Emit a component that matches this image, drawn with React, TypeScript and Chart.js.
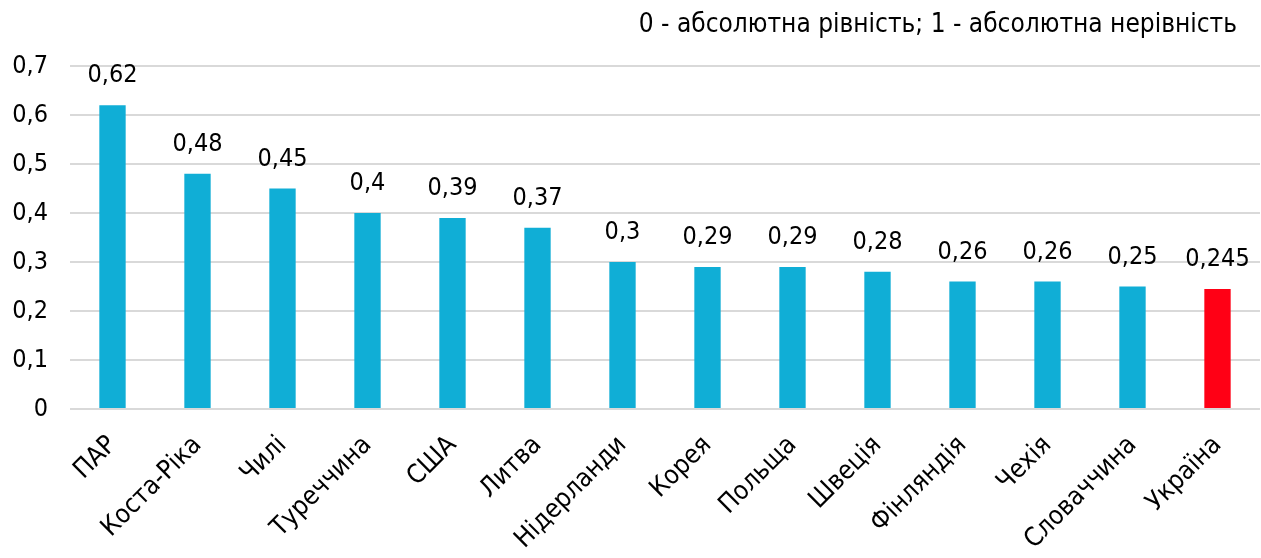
import React, { useEffect, useRef } from "react";
import { Chart, registerables } from "chart.js";

Chart.register(...registerables);

const categories = [
  "ПАР",
  "Коста-Ріка",
  "Чилі",
  "Туреччина",
  "США",
  "Литва",
  "Нідерланди",
  "Корея",
  "Польща",
  "Швеція",
  "Фінляндія",
  "Чехія",
  "Словаччина",
  "Україна",
];
const giniValues = [0.62, 0.48, 0.45, 0.4, 0.39, 0.37, 0.3, 0.29, 0.29, 0.28, 0.26, 0.26, 0.25, 0.245];
const valueLabels = ["0,62", "0,48", "0,45", "0,4", "0,39", "0,37", "0,3", "0,29", "0,29", "0,28", "0,26", "0,26", "0,25", "0,245"];
const barColors = [
  "#10AED6", "#10AED6", "#10AED6", "#10AED6", "#10AED6", "#10AED6", "#10AED6",
  "#10AED6", "#10AED6", "#10AED6", "#10AED6", "#10AED6", "#10AED6", "#FF0015",
];
const noteText = "0 - абсолютна рівність; 1 - абсолютна нерівність";

const FONT = "'DejaVu Sans Condensed', 'DejaVu Sans', sans-serif";

const labelPlugin = {
  id: "valueLabels",
  afterDatasetsDraw(chart: any) {
    const ctx = chart.ctx;
    const meta = chart.getDatasetMeta(0);
    ctx.save();
    ctx.font = `25px ${FONT}`;
    ctx.fillStyle = "#000";
    ctx.textAlign = "center";
    ctx.textBaseline = "alphabetic";
    meta.data.forEach((bar: any, i: number) => {
      ctx.fillText(valueLabels[i], bar.x, bar.y - 23);
    });
    ctx.restore();
  },
  afterDraw(chart: any) {
    const ctx = chart.ctx;
    ctx.save();
    ctx.font = `26px ${FONT}`;
    ctx.fillStyle = "#000";
    ctx.textAlign = "right";
    ctx.textBaseline = "middle";
    ctx.fillText(noteText, chart.width - 24, 25);
    ctx.restore();
  },
};

export default function App() {
  const ref = useRef<HTMLCanvasElement>(null);
  useEffect(() => {
    if (!ref.current) return;
    const chart = new Chart(ref.current, {
      type: "bar",
      data: {
        labels: categories,
        datasets: [
          {
            data: giniValues,
            backgroundColor: barColors,
            barPercentage: 0.31,
            categoryPercentage: 1,
          },
        ],
      },
      options: {
        responsive: false,
        animation: false,
        devicePixelRatio: 1,
        layout: { padding: { top: 66, right: 1, left: 0, bottom: 0 } },
        plugins: { legend: { display: false }, title: { display: false }, tooltip: { enabled: false } },
        scales: {
          x: {
            grid: { display: false },
            border: { display: false },
            ticks: {
              color: "#000",
              font: { family: FONT, size: 26 },
              maxRotation: 45,
              minRotation: 45,
              autoSkip: false,
              padding: 13,
            },
            afterFit(scale: any) {
              scale.height = 149;
            },
          },
          y: {
            min: 0,
            max: 0.7,
            grid: { color: "#D9D9D9", lineWidth: 2, drawTicks: false },
            border: { display: false },
            ticks: {
              stepSize: 0.1,
              color: "#000",
              padding: 22,
              font: { family: FONT, size: 25 },
              callback: (v: any) => String(Math.round(Number(v) * 10) / 10).replace(".", ","),
            },
            afterFit(scale: any) {
              scale.width = 70;
            },
          },
        },
      },
      plugins: [labelPlugin],
    });
    return () => chart.destroy();
  }, []);
  return (
    <div style={{ position: "absolute", left: 0, top: 0, width: 1261, height: 558, background: "#fff" }}>
      <canvas ref={ref} width={1261} height={558} />
    </div>
  );
}
